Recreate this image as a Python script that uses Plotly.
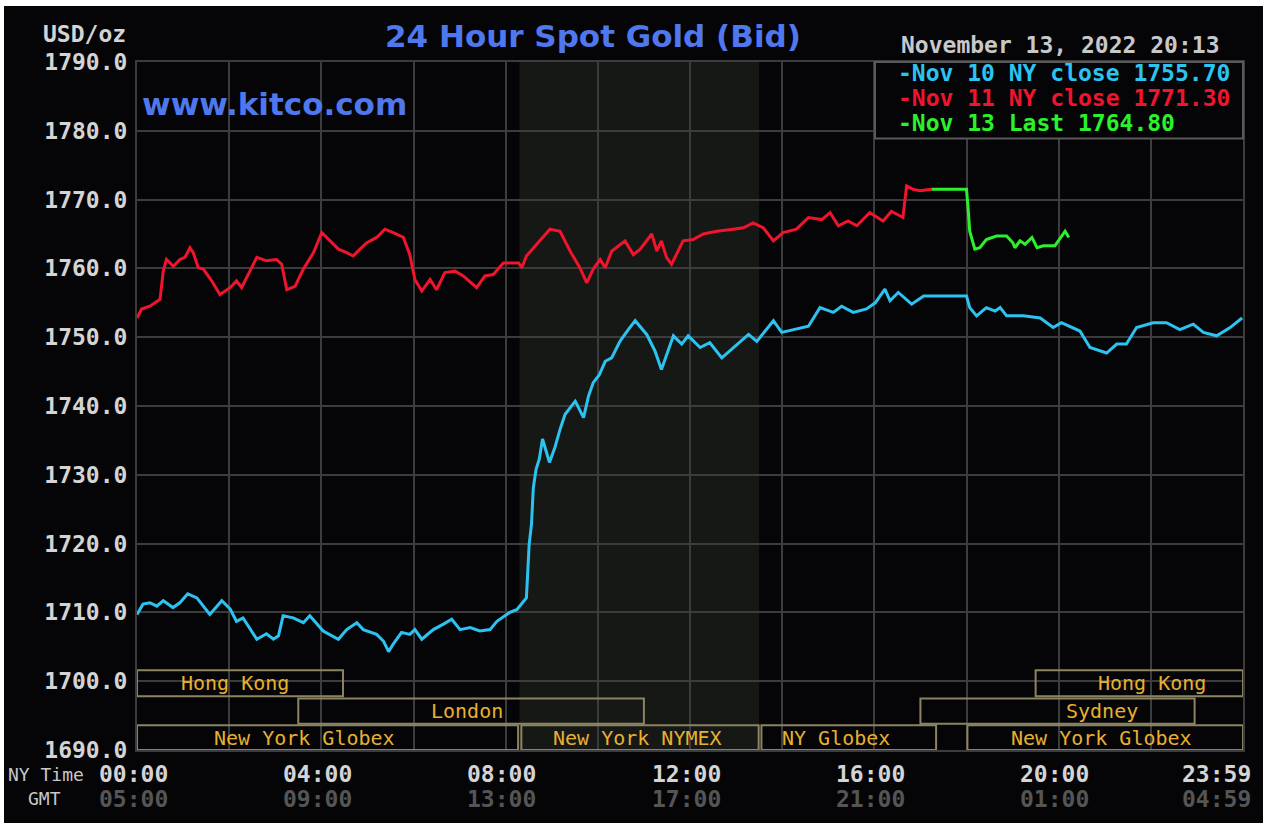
import plotly.graph_objects as go

# ---------------- data ----------------
nov10_t = [0.0, 0.13, 0.28, 0.43, 0.57, 0.78, 0.93, 1.1, 1.3, 1.58, 1.84, 2.02, 2.16, 2.3, 2.6, 2.81,
           2.96, 3.07, 3.17, 3.39, 3.61, 3.75, 4.04, 4.37, 4.55, 4.77, 4.91, 5.2, 5.35, 5.46, 5.56,
           5.74, 5.92, 6.03, 6.18, 6.43, 6.65, 6.83, 7.01, 7.23, 7.44, 7.66, 7.81, 8.09, 8.24, 8.45,
           8.51, 8.56, 8.6, 8.66, 8.73, 8.8, 8.95, 9.07, 9.18, 9.29, 9.51, 9.69, 9.8, 9.9, 10.03,
           10.16, 10.3, 10.48, 10.66, 10.81, 11.06, 11.24, 11.38, 11.64, 11.82, 11.96, 12.22, 12.43,
           12.69, 12.94, 13.27, 13.45, 13.81, 13.99, 14.24, 14.57, 14.82, 15.11, 15.29, 15.54, 15.83,
           16.02, 16.23, 16.34, 16.52, 16.81, 17.07, 18.0, 18.07, 18.22, 18.43, 18.62, 18.73, 18.87,
           19.23, 19.6, 19.88, 20.06, 20.46, 20.68, 21.04, 21.26, 21.47, 21.69, 22.05, 22.34, 22.63,
           22.92, 23.14, 23.43, 23.72, 23.98]
nov10_v = [1709.7, 1711.2, 1711.4, 1710.9, 1711.7, 1710.7, 1711.4, 1712.7, 1712.1, 1709.7, 1711.7,
           1710.5, 1708.7, 1709.2, 1706.1, 1706.9, 1706.1, 1706.6, 1709.5, 1709.2, 1708.5, 1709.5,
           1707.3, 1706.1, 1707.5, 1708.5, 1707.5, 1706.8, 1705.8, 1704.3, 1705.4, 1707.1, 1706.8,
           1707.5, 1706.1, 1707.5, 1708.3, 1709.0, 1707.5, 1707.8, 1707.3, 1707.5, 1708.7, 1710.0,
           1710.4, 1712.1, 1719.9, 1722.8, 1728.1, 1730.8, 1732.3, 1735.2, 1731.8, 1734.0, 1736.6,
           1738.8, 1740.7, 1738.3, 1741.5, 1743.4, 1744.5, 1746.5, 1747.0, 1749.4, 1751.1, 1752.4,
           1750.4, 1748.0, 1745.3, 1750.2, 1749.0, 1750.2, 1748.5, 1749.2, 1747.0, 1748.5, 1750.4,
           1749.4, 1752.4, 1750.7, 1751.1, 1751.6, 1754.3, 1753.6, 1754.5, 1753.6, 1754.1, 1755.0,
           1757.0, 1755.3, 1756.5, 1754.8, 1756.0, 1756.0, 1754.3, 1753.1, 1754.3, 1753.8, 1754.3,
           1753.1, 1753.1, 1752.8, 1751.4, 1752.1, 1750.9, 1748.5, 1747.7, 1749.0, 1749.0, 1751.4,
           1752.1, 1752.1, 1751.1, 1751.9, 1750.7, 1750.2, 1751.4, 1752.8]

nov11_t = [0.0, 0.1, 0.28, 0.5, 0.57, 0.64, 0.79, 0.93, 1.04, 1.15, 1.22, 1.33, 1.44, 1.62, 1.8, 2.02,
           2.16, 2.27, 2.45, 2.6, 2.81, 3.03, 3.14, 3.25, 3.43, 3.61, 3.83, 4.01, 4.19, 4.37, 4.55,
           4.69, 4.84, 4.98, 5.2, 5.38, 5.56, 5.78, 5.92, 6.03, 6.18, 6.36, 6.5, 6.68, 6.9, 7.08, 7.37,
           7.55, 7.73, 7.95, 8.28, 8.35, 8.45, 8.67, 8.96, 9.18, 9.4, 9.61, 9.76, 9.9, 10.05, 10.16,
           10.3, 10.59, 10.77, 10.92, 11.17, 11.28, 11.38, 11.49, 11.6, 11.85, 12.07, 12.29, 12.58,
           12.94, 13.16, 13.37, 13.59, 13.81, 14.02, 14.31, 14.57, 14.86, 15.04, 15.22, 15.43, 15.62,
           15.9, 16.19, 16.37, 16.62, 16.7, 16.84, 16.99, 17.24]
nov11_v = [1752.8, 1754.1, 1754.5, 1755.5, 1759.6, 1761.3, 1760.3, 1761.3, 1761.6, 1763.0, 1762.3,
           1760.1, 1759.9, 1758.2, 1756.2, 1757.2, 1758.2, 1757.2, 1759.6, 1761.6, 1761.1, 1761.3,
           1760.6, 1756.9, 1757.4, 1759.9, 1762.3, 1765.2, 1764.0, 1762.8, 1762.3, 1761.8, 1762.8,
           1763.7, 1764.5, 1765.7, 1765.2, 1764.5, 1762.0, 1758.4, 1756.7, 1758.4, 1756.9, 1759.4,
           1759.6, 1758.9, 1757.2, 1758.9, 1759.1, 1760.8, 1760.8, 1760.1, 1761.8, 1763.5, 1765.7,
           1765.4, 1762.5, 1760.1, 1757.9, 1759.9, 1761.3, 1760.1, 1762.5, 1764.0, 1762.0, 1762.8,
           1765.0, 1762.5, 1764.0, 1761.6, 1760.6, 1764.0, 1764.2, 1765.0, 1765.4, 1765.7, 1765.9,
           1766.6, 1765.9, 1764.0, 1765.2, 1765.7, 1767.4, 1767.1, 1768.1, 1766.2, 1766.9, 1766.2,
           1768.1, 1766.9, 1768.3, 1767.4, 1772.0, 1771.5, 1771.3, 1771.5]

nov13_t = [17.24, 18.0, 18.04, 18.07, 18.18, 18.29, 18.43, 18.65, 18.87, 19.01, 19.05, 19.16, 19.27,
           19.42, 19.53, 19.67, 19.92, 20.06, 20.14, 20.22]
nov13_v = [1771.5, 1771.5, 1768.3, 1765.4, 1762.8, 1763.0, 1764.2, 1764.7, 1764.7, 1763.7, 1763.0,
           1764.0, 1763.5, 1764.5, 1763.0, 1763.3, 1763.3, 1764.7, 1765.4, 1764.5]

legend_labels = ["-Nov 10 NY close 1755.70", "-Nov 11 NY close 1771.30", "-Nov 13 Last 1764.80"]

y_ticks = [1690, 1700, 1710, 1720, 1730, 1740, 1750, 1760, 1770, 1780, 1790]
x_tick_hours = [0, 4, 8, 12, 16, 20, 24]
ny_tick_text = ["00:00", "04:00", "08:00", "12:00", "16:00", "20:00", "23:59"]
gmt_tick_text = ["05:00", "09:00", "13:00", "17:00", "21:00", "01:00", "04:59"]

session_names = ["Hong Kong", "London", "New York Globex", "New York NYMEX", "NY Globex",
                 "Sydney", "Hong Kong", "New York Globex"]
session_start = [0.0, 3.5, 0.0, 8.34, 13.55, 17.0, 19.5, 18.02]
session_end = [4.47, 11.0, 8.27, 13.49, 17.34, 22.95, 24.0, 24.0]
session_row = [0, 1, 2, 2, 2, 1, 0, 2]
session_label_x = [2.12, 7.15, 3.63, 10.87, 15.17, 20.94, 22.02, 20.94]
row_bottom = [1697.8, 1693.8, 1690.0]
row_top = [1701.6, 1697.5, 1693.6]

nymex_start, nymex_end = 8.3, 13.5

# ---------------- styling ----------------
W, H = 1272, 834
L, R, T, B = 137, 29, 62, 84
PW, PH = W - L - R, H - T - B

def px(x):
    return (x - L) / PW

def py(y):
    return (H - B - y) / PH

BG = "#050508"
GRID = "#3c3c3c"
MONO = "DejaVu Sans Mono"
BLUE = "#2cc3f0"
RED = "#f0142d"
GREEN = "#2cf02c"
GOLD = "#e8b030"
BOX = "#8c8460"

fig = go.Figure()
for t, v, c in [(nov10_t, nov10_v, BLUE), (nov11_t, nov11_v, RED), (nov13_t, nov13_v, GREEN)]:
    fig.add_trace(go.Scatter(x=t, y=v, mode="lines", line=dict(color=c, width=3),
                             showlegend=False, hoverinfo="skip"))

shapes = []
# black card over white page
shapes.append(dict(type="rect", xref="paper", yref="paper", x0=px(4), x1=px(1263), y0=py(823), y1=py(6),
                   fillcolor=BG, line=dict(width=0), layer="below"))
# NYMEX shading
shapes.append(dict(type="rect", xref="x", yref="paper", x0=nymex_start, x1=nymex_end, y0=0, y1=1,
                   fillcolor="#161816", line=dict(width=0), layer="below"))
# session boxes
for s, e, r in zip(session_start, session_end, session_row):
    shapes.append(dict(type="rect", xref="x", yref="y", x0=s, x1=e, y0=row_bottom[r], y1=row_top[r],
                       fillcolor="rgba(0,0,0,0)", line=dict(color=BOX, width=2), layer="above"))
# legend box
shapes.append(dict(type="rect", xref="paper", yref="paper", x0=px(875), x1=px(1243), y0=py(138.5), y1=1,
                   fillcolor=BG, line=dict(color="#5a5a5a", width=2), layer="above"))

ann = []
for name, lx, r in zip(session_names, session_label_x, session_row):
    ann.append(dict(x=lx, y=(row_bottom[r] + row_top[r]) / 2, xref="x", yref="y", text=name,
                    showarrow=False, xanchor="center", yanchor="middle",
                    font=dict(family=MONO, size=20, color=GOLD)))

for h, ny, gmt in zip(x_tick_hours, ny_tick_text, gmt_tick_text):
    if h == 24:
        xa, xs = "right", 10
    else:
        xa, xs = "center", -4
    ann.append(dict(x=h, y=py(774), xref="x", yref="paper", text=ny, showarrow=False,
                    xanchor=xa, yanchor="middle", xshift=xs,
                    font=dict(family=MONO, size=23, color="#d4d4d4", weight="bold")))
    ann.append(dict(x=h, y=py(798.5), xref="x", yref="paper", text=gmt, showarrow=False,
                    xanchor=xa, yanchor="middle", xshift=xs,
                    font=dict(family=MONO, size=23, color="#555555", weight="bold")))

ann.append(dict(x=px(86), y=py(774), xref="paper", yref="paper", text="NY Time", showarrow=False,
                xanchor="right", yanchor="middle", font=dict(family=MONO, size=18, color="#c8c8c8")))
ann.append(dict(x=px(44), y=py(798.5), xref="paper", yref="paper", text="GMT", showarrow=False,
                xanchor="center", yanchor="middle", font=dict(family=MONO, size=18, color="#c8c8c8")))
ann.append(dict(x=px(128), y=py(34), xref="paper", yref="paper", text="USD/oz", showarrow=False,
                xanchor="right", yanchor="middle",
                font=dict(family=MONO, size=23, color="#d4d4d4", weight="bold")))
ann.append(dict(x=px(592.5), y=py(36.5), xref="paper", yref="paper", text="24 Hour Spot Gold (Bid)",
                showarrow=False, xanchor="center", yanchor="middle",
                font=dict(family="DejaVu Sans", size=31, color="#5078ee", weight="bold")))
ann.append(dict(x=px(140), y=py(103.5), xref="paper", yref="paper", text="www.kitco.com",
                showarrow=False, xanchor="left", yanchor="middle",
                font=dict(family="DejaVu Sans", size=31, color="#5078ee", weight="bold")))
ann.append(dict(x=px(899), y=py(45.5), xref="paper", yref="paper", text="November 13, 2022 20:13",
                showarrow=False, xanchor="left", yanchor="middle",
                font=dict(family=MONO, size=23, color="#c8c8c8", weight="bold")))
for lab, c, yy in zip(legend_labels, [BLUE, RED, GREEN], [73.3, 98.3, 122.5]):
    ann.append(dict(x=px(896), y=py(yy), xref="paper", yref="paper", text=lab, showarrow=False,
                    xanchor="left", yanchor="middle",
                    font=dict(family=MONO, size=23, color=c, weight="bold")))

fig.update_layout(
    width=W, height=H, margin=dict(l=L, r=R, t=T, b=B, pad=0),
    paper_bgcolor="#ffffff", plot_bgcolor=BG,
    shapes=shapes, annotations=ann, showlegend=False,
    xaxis=dict(range=[0, 24], tickvals=list(range(0, 25, 2)), showticklabels=False,
               showgrid=True, gridcolor=GRID, gridwidth=2, zeroline=False,
               showline=True, linecolor=GRID, linewidth=2, mirror=True, ticks=""),
    yaxis=dict(range=[1690, 1790], tickvals=y_ticks, ticktext=[f"{v:.1f}" for v in y_ticks],
               showgrid=True, gridcolor=GRID, gridwidth=2, zeroline=False,
               showline=True, linecolor=GRID, linewidth=2, mirror=True, ticks="",
               ticklabelstandoff=3,
               tickfont=dict(family=MONO, size=23, color="#d4d4d4", weight="bold")),
)

fig.write_html("out.html")
